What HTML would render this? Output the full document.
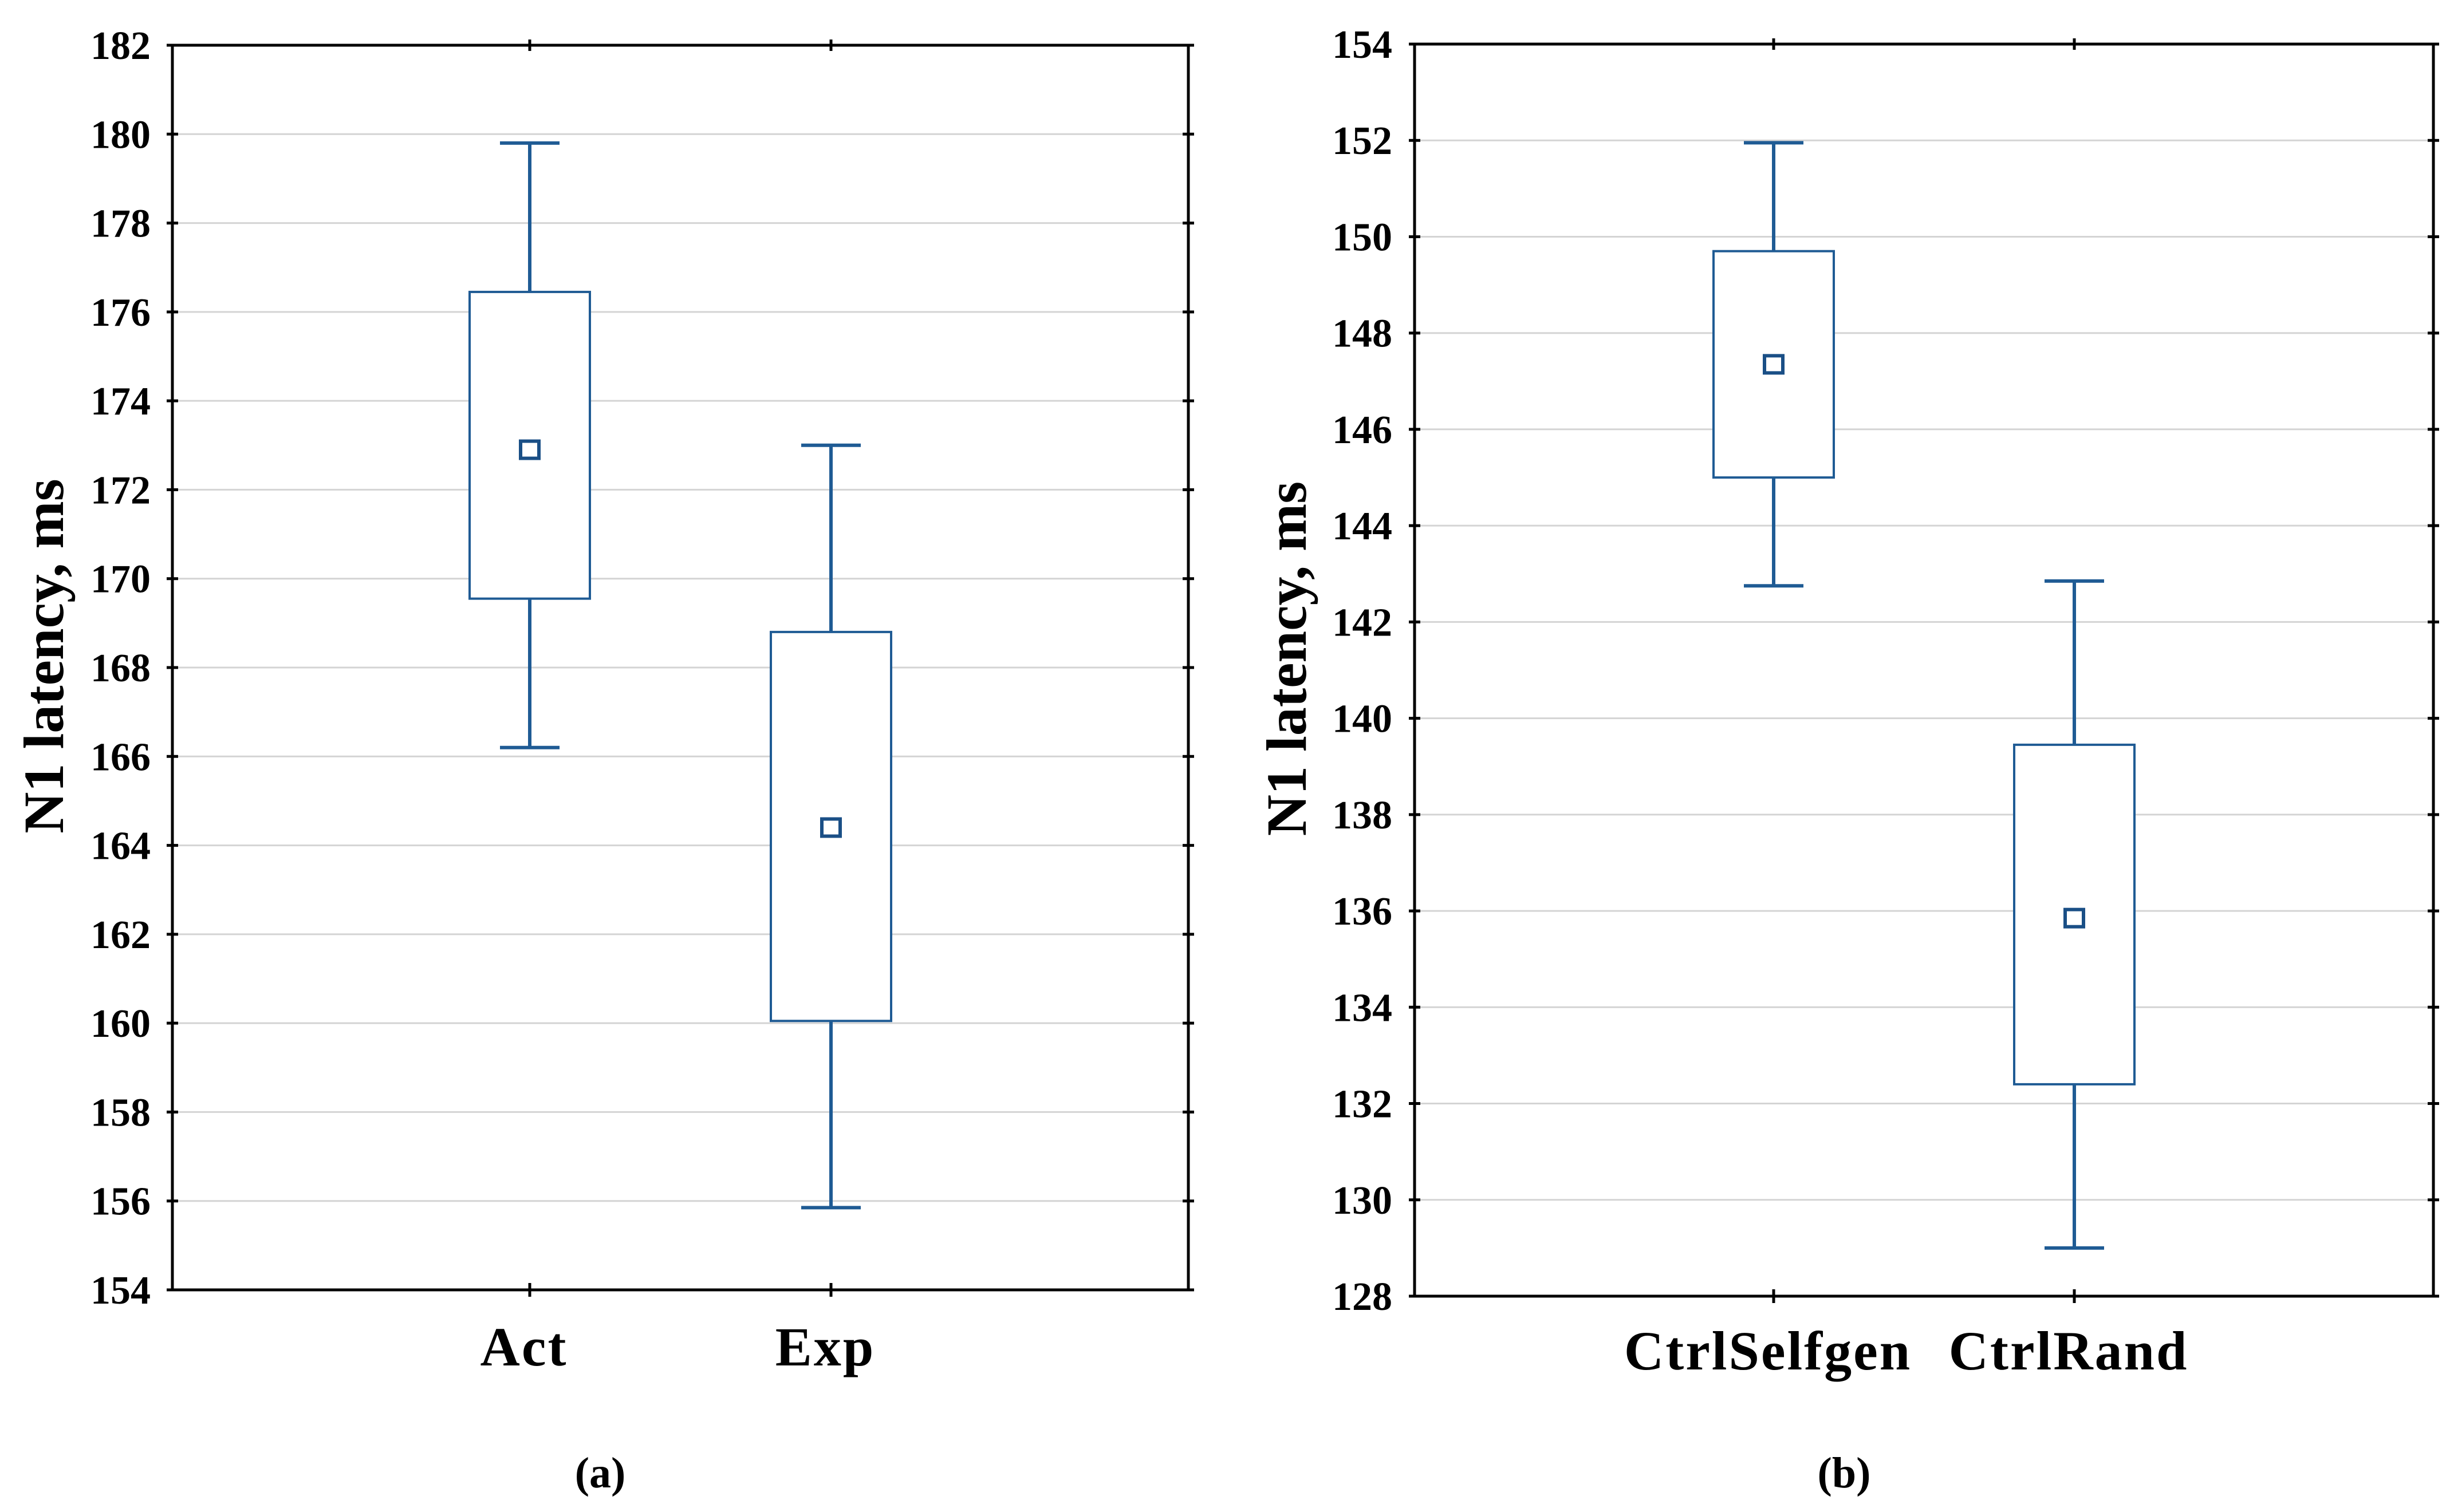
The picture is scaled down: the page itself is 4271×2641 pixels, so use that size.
<!DOCTYPE html>
<html><head><meta charset="utf-8"><style>
html,body{margin:0;padding:0;background:#fff}
svg{display:block}
text{font-family:"Liberation Serif",serif;font-weight:bold;fill:#000}
</style></head><body>
<svg id="chart" width="4271" height="2641" viewBox="0 0 4271 2641" xmlns="http://www.w3.org/2000/svg"></svg>
<script>
// Panel (a)
const catsA = ["Act","Exp"];
const whiskHiA = [179.8,173.0];
const whiskLoA = [166.2,155.85];
const boxHiA = [176.45,168.8];
const boxLoA = [169.55,160.05];
const meanA = [172.9,164.4];
const ticksA = [154,156,158,160,162,164,166,168,170,172,174,176,178,180,182];
// Panel (b)
const catsB = ["CtrlSelfgen","CtrlRand"];
const whiskHiB = [151.95,142.85];
const whiskLoB = [142.75,129.0];
const boxHiB = [149.7,139.45];
const boxLoB = [145.0,132.4];
const meanB = [147.35,135.85];
const ticksB = [128,130,132,134,136,138,140,142,144,146,148,150,152,154];

const svg = document.getElementById('chart');
const NS = 'http://www.w3.org/2000/svg';
function mk(tag, attrs, parent){
  const e = document.createElementNS(NS, tag);
  for (const k in attrs) e.setAttribute(k, attrs[k]);
  (parent||svg).appendChild(e);
  return e;
}
const BLUE = '#1f5b94';

function panel(p){
  const g = mk('g', {});
  
  
  const ymin = p.ticks[0], ymax = p.ticks[p.ticks.length-1];
  const y = v => p.bottom - (v - ymin) / (ymax - ymin) * (p.bottom - p.top);
  const n = p.cats.length;
  const x = i => p.cx[i];
  p.ticks.forEach(t => {
    const yy = y(t);
    if (t !== ymin && t !== ymax) {
      const gl = mk('line', {x1:p.left, x2:p.right, y1:yy, y2:yy, stroke:'#d4d4d4', 'stroke-width':3}, g);
      
      
    }
    mk('line', {x1:p.left-10, x2:p.left+10, y1:yy, y2:yy, stroke:'#000', 'stroke-width':5}, g);
    mk('line', {x1:p.right-10, x2:p.right+10, y1:yy, y2:yy, stroke:'#000', 'stroke-width':5}, g);
    const tl = mk('text', {x:p.labelX, y:yy+24, 'text-anchor':'end', 'font-size':70}, g);
    tl.textContent = t;
    
    
  });
  const fr = mk('rect', {x:p.left, y:p.top, width:p.right-p.left, height:p.bottom-p.top, fill:'none', stroke:'#000', 'stroke-width':5}, g);
  
  
  for (let i=0;i<n;i++){
    const cx = x(i);
    mk('line', {x1:cx, x2:cx, y1:p.bottom-12, y2:p.bottom+12, stroke:'#000', 'stroke-width':5}, g);
    mk('line', {x1:cx, x2:cx, y1:p.top-10, y2:p.top+10, stroke:'#000', 'stroke-width':5}, g);
    const wk = mk('line', {x1:cx, x2:cx, y1:y(p.wh[i]), y2:y(p.wl[i]), stroke:BLUE, 'stroke-width':6}, g);
    
    
    [p.wh[i], p.wl[i]].forEach(v => {
      const c = mk('line', {x1:cx-52, x2:cx+52, y1:y(v), y2:y(v), stroke:BLUE, 'stroke-width':6}, g);
      
      
    });
    const bx = mk('rect', {x:cx-105, y:y(p.bh[i]), width:210, height:y(p.bl[i])-y(p.bh[i]), fill:'#fff', stroke:BLUE, 'stroke-width':4}, g);
    
    
    const m = mk('rect', {x:cx-16, y:y(p.mean[i])-15, width:32, height:30, fill:'#fff', stroke:'#1a4f86', 'stroke-width':6}, g);
    
    
    const cl = mk('text', {x:cx - 10, y:p.catY, 'text-anchor':'middle', 'font-size':p.catSize, 'letter-spacing':3}, g);
    cl.textContent = p.cats[i];
    
    
  }
  const yt = mk('text', {x:0, y:0, 'text-anchor':'middle', 'font-size':100, transform:`translate(${p.titleX},${(p.top+p.bottom)/2 - 20}) rotate(-90)`}, g);
  yt.textContent = 'N1 latency, ms';
  
  
  const cap = mk('text', {x:p.capX, y:2598, 'text-anchor':'middle', 'font-size':76}, g);
  cap.textContent = p.cap;
  
  
}

panel({name:'panel-a', cats:catsA, wh:whiskHiA, wl:whiskLoA, bh:boxHiA, bl:boxLoA, mean:meanA, ticks:ticksA,
  left:301, right:2075, top:79, bottom:2253, cx:[925,1451], labelX:263, titleX:110, catY:2385, catSize:96, capX:1048, cap:'(a)'});
panel({name:'panel-b', cats:catsB, wh:whiskHiB, wl:whiskLoB, bh:boxHiB, bl:boxLoB, mean:meanB, ticks:ticksB,
  left:2470, right:4249, top:77, bottom:2264, cx:[3097,3622], labelX:2431, titleX:2280, catY:2392, catSize:96, capX:3220, cap:'(b)'});
</script>
</body></html>
